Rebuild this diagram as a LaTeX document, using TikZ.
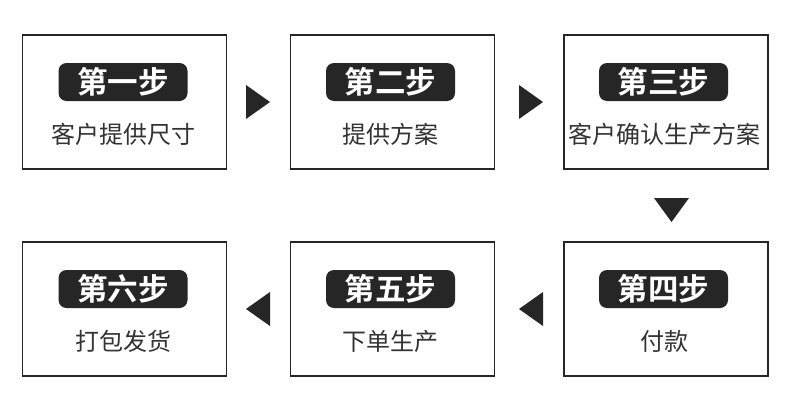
\documentclass[tikz,border=0pt]{standalone}
\usepackage{fontspec}
\newfontfamily\cjk{Noto Sans CJK SC}
\newfontfamily\cjkbold{Noto Sans CJK SC Bold}
\definecolor{ink}{HTML}{262626}
\definecolor{txt}{HTML}{333333}
\begin{document}
\begin{tikzpicture}[x=1pt,y=-1pt,
  stepbox/.style={draw=ink,line width=1.2pt,minimum width=204pt,minimum height=134pt,inner sep=0pt},
  badge/.style={fill=ink,rounded corners=8pt,minimum width=129pt,minimum height=38pt,inner sep=0pt,text=white,font=\cjkbold\fontsize{30.5}{30.5}\selectfont},
  lbl/.style={text=txt,inner sep=0pt,font=\cjk\fontsize{24}{24}\selectfont},
  tri/.style={fill=ink,draw=none}]
\useasboundingbox (0,0) rectangle (790,407);
\fill[white] (0,0) rectangle (790,407);
% boxes
\node[stepbox] (b1) at (124.5,102) {};
\node[stepbox] (b2) at (392.5,102) {};
\node[stepbox] (b3) at (666,102) {};
\node[stepbox] (b4) at (666,309) {};
\node[stepbox] (b5) at (392.5,309) {};
\node[stepbox] (b6) at (124.5,309) {};
% badges
\node[badge] (g1) at (123,82) {第一步};
\node[badge] (g2) at (390.5,82) {第二步};
\node[badge] (g3) at (663.5,82) {第三步};
\node[badge] (g4) at (663.5,289) {第四步};
\node[badge] (g5) at (390.5,289) {第五步};
\node[badge] (g6) at (123,289) {第六步};
% labels
\node[lbl] (l1) at (123,134) {客户提供尺寸};
\node[lbl] (l2) at (390.5,134) {提供方案};
\node[lbl] (l3) at (664,134) {客户确认生产方案};
\node[lbl] (l4) at (664,341) {付款};
\node[lbl] (l5) at (390.5,341) {下单生产};
\node[lbl] (l6) at (123,341) {打包发货};
% arrows
\fill[tri] (246,85) -- (270,102) -- (246,119) -- cycle;
\fill[tri] (519,85) -- (543,102) -- (519,119) -- cycle;
\fill[tri] (654,198) -- (689,198) -- (671.5,222) -- cycle;
\fill[tri] (543,292) -- (519,309) -- (543,326) -- cycle;
\fill[tri] (270,292) -- (246,309) -- (270,326) -- cycle;
\end{tikzpicture}
\end{document}
